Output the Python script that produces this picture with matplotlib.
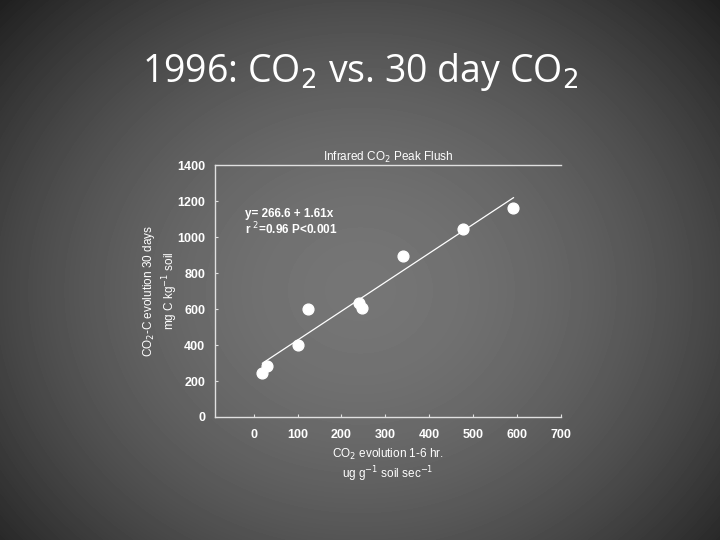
import matplotlib.pyplot as plt
import numpy as np

# data
flush_co2 = [18, 30, 101, 125, 240, 248, 340, 476, 590]
co2_30day = [246, 283, 400, 598, 635, 607, 898, 1048, 1161]
intercept = 266.6
slope = 1.61
fit_x = [20, 592]
x_ticks = [0, 100, 200, 300, 400, 500, 600, 700]
y_ticks = [0, 200, 400, 600, 800, 1000, 1200, 1400]

fig = plt.figure(figsize=(7.2, 5.4), dpi=100)

# radial grey slide background
bg = fig.add_axes([0, 0, 1, 1])
yy, xx = np.mgrid[0:540, 0:720]
r = np.sqrt(((xx - 360) / 460.0) ** 2 + ((yy - 290) / 400.0) ** 2)
shade = np.clip(0.46 - 0.3 * r ** 1.8, 0.1, 0.5)
bg.imshow(shade, cmap="gray", vmin=0, vmax=1, aspect="auto", extent=[0, 1, 0, 1])
bg.set_axis_off()

fig.text(0.5, 0.866, "1996: CO$_2$ vs. 30 day CO$_2$", ha="center", va="center",
         fontsize=27, color="white", family="Open Sans")

ax = fig.add_axes([0.2986, 0.2278, 0.4804, 0.4661])
ax.set_facecolor("none")
ax.scatter(flush_co2, co2_30day, s=60, color="white", zorder=3)
fx = np.array(fit_x)
ax.plot(fx, intercept + slope * fx, color="white", lw=0.9)

ax.set_xlim(-88, 700)
ax.set_ylim(0, 1400)
ax.set_xticks(x_ticks)
ax.set_yticks(y_ticks)
ax.spines["right"].set_visible(False)
for s in ["left", "bottom", "top"]:
    ax.spines[s].set_color("#e0e0e0")
    ax.spines[s].set_linewidth(1.0)
ax.tick_params(colors="#e0e0e0", labelcolor="white", length=2, direction="in",
               labelsize=9)
for lab in ax.get_xticklabels() + ax.get_yticklabels():
    lab.set_fontweight("bold")
    lab.set_family("Liberation Sans")
ax.tick_params(axis="x", pad=9)
ax.tick_params(axis="y", pad=7)

ax.set_title("Infrared CO$_2$ Peak Flush", color="white", fontsize=8.5,
             family="Liberation Sans", pad=2)
ax.set_xlabel("CO$_2$ evolution 1-6 hr.\nug g$^{-1}$ soil sec$^{-1}$", color="white",
              fontsize=8.5, family="Liberation Sans", linespacing=1.15, labelpad=4)
ax.set_ylabel("CO$_2$-C evolution 30 days\nmg C kg$^{-1}$ soil", color="white",
              fontsize=8.5, family="Liberation Sans", linespacing=1.25, labelpad=-2)
ax.text(-20, 1160, "y= 266.6 + 1.61x\nr $^2$=0.96 P<0.001", color="white",
        fontsize=8.5, fontweight="bold", family="Liberation Sans", va="top",
        linespacing=1.05)

fig.savefig("out.png", dpi=100)
